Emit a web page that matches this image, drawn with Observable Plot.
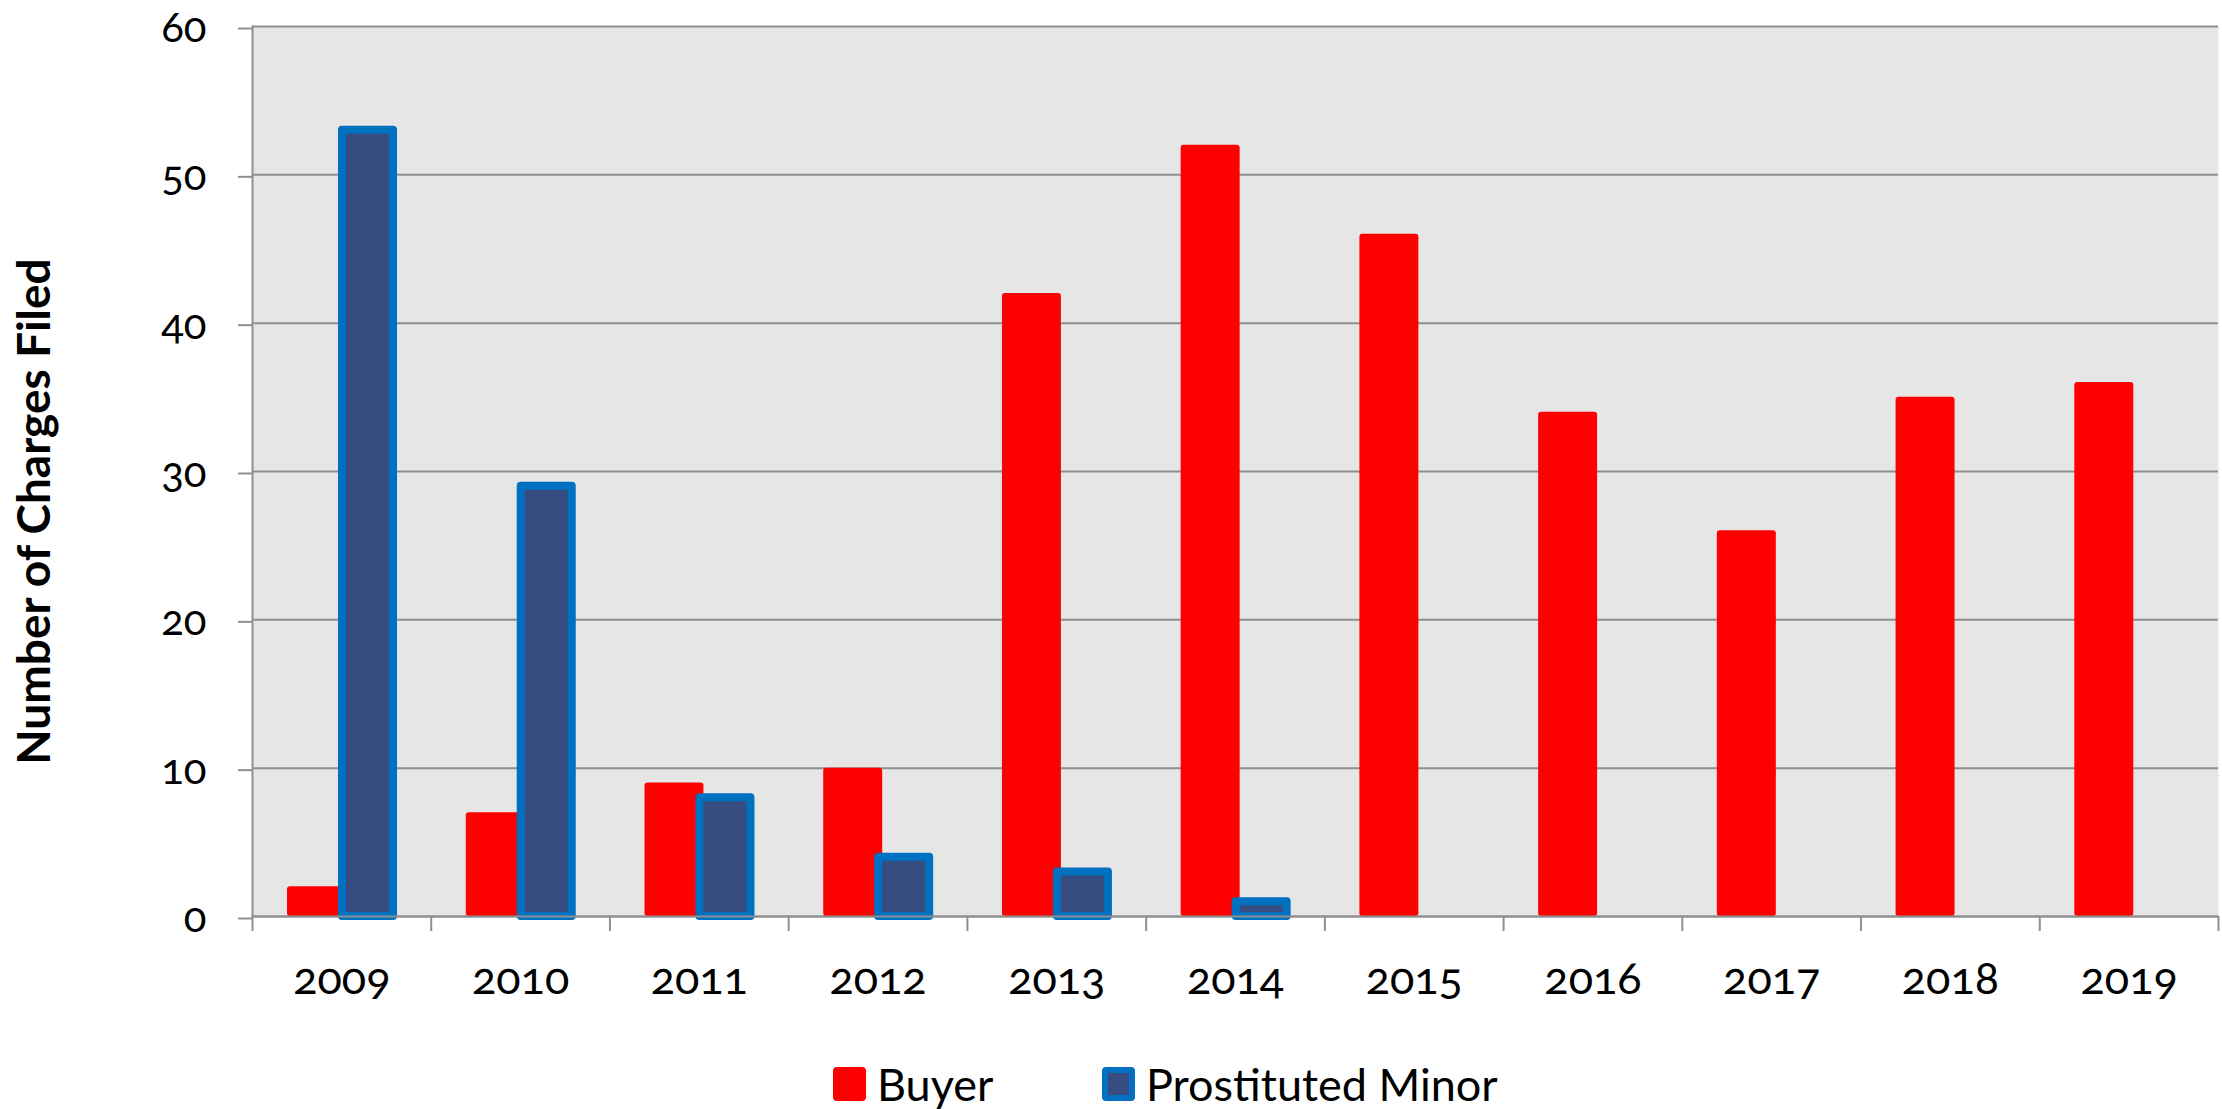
<!DOCTYPE html>
<html>
<head>
<meta charset="utf-8">
<script src="https://cdn.jsdelivr.net/npm/d3@7"></script>
<script src="https://cdn.jsdelivr.net/npm/@observablehq/plot@0.6"></script>
<style>
  html, body { margin: 0; padding: 0; background: #fff; }
  #wrap { position: relative; width: 2222px; height: 1109px; font-family: Lato, "Open Sans", sans-serif; }
  #chart svg { display: block; font-variant-numeric: oldstyle-nums; font-feature-settings: "onum" 1; }
  #legend { position: absolute; left: 0; top: 1040px; width: 2222px; height: 69px; }
  .item { position: absolute; top: 27px; height: 34px; display: flex; align-items: center; font-size: 45px; color: #000; }
  .sw { width: 33px; height: 34px; border-radius: 4px; box-sizing: border-box; margin-right: 11px; flex: none; }
</style>
</head>
<body>
<div id="wrap">
  <div id="chart"></div>
  <div id="legend">
    <div class="item" style="left:833px"><div class="sw" style="background:#ff0000"></div><span>Buyer</span></div>
    <div class="item" style="left:1102px"><div class="sw" style="background:#374c80;border:6px solid #0070c0"></div><span>Prostituted Minor</span></div>
  </div>
</div>
<script>
// ---- data ----
const years = [2009, 2010, 2011, 2012, 2013, 2014, 2015, 2016, 2017, 2018, 2019];
const buyer = [2, 7, 9, 10, 42, 52, 46, 34, 26, 35, 36];
const minor = [53, 29, 8, 4, 3, 1, null, null, null, null, null];
const yTicks = [0, 10, 20, 30, 40, 50, 60];
const seriesNames = ["Buyer", "Prostituted Minor"];
const yTitle = "Number of Charges Filed";

// ---- build tables ----
const buyerRows = years.map((year, i) => ({year, value: buyer[i], series: seriesNames[0]}));
const minorRows = years.map((year, i) => ({year, value: minor[i], series: seriesNames[1]})).filter(d => d.value != null);
const boundaries = years.map(y => y - 0.5).concat([years[years.length - 1] + 0.5]);

// bar placement within each one-year category (fractions of the category)
const B0 = 0.196, B1 = 0.526, M0 = 0.5035, M1 = 0.789;

const grid = "#8f8f8f";
const W = 2222, H = 1040;

const chart = Plot.plot({
  width: W,
  height: H,
  marginLeft: 252,
  marginRight: 4,
  marginTop: 26,
  marginBottom: H - 916,
  style: {fontFamily: "Lato, 'Open Sans', sans-serif", color: "#000", background: "transparent"},
  x: {type: "linear", domain: [boundaries[0], boundaries[boundaries.length - 1]], axis: null},
  y: {domain: [0, 60], axis: null},
  marks: [
    Plot.frame({fill: "#e6e6e6", stroke: null}),
    Plot.gridY(yTicks, {stroke: grid, strokeOpacity: 1, strokeWidth: 2}),
    Plot.rectY(buyerRows, {
      x1: d => d.year - 0.5 + B0, x2: d => d.year - 0.5 + B1,
      y1: 0, y2: "value", fill: "#ff0000", rx: 3
    }),
    Plot.rectY(minorRows, {
      x1: d => d.year - 0.5 + M0, x2: d => d.year - 0.5 + M1,
      y1: 0, y2: "value", fill: "#374c80", stroke: "#0070c0", strokeWidth: 8, strokeLinejoin: "round"
    }),
    Plot.ruleY([0], {stroke: grid, strokeWidth: 2}),
    Plot.frame({anchor: "left", stroke: grid, strokeWidth: 2}),
    Plot.axisY({ticks: yTicks, tickSize: 14, tickPadding: 32, fontSize: 42, stroke: grid, strokeWidth: 2, fill: "#000", label: null, dy: 2}),
    Plot.axisX({ticks: boundaries, tickSize: 15, tickFormat: () => "", stroke: grid, strokeWidth: 2, label: null}),
    Plot.axisX({ticks: years, tickSize: 0, tickPadding: 46, tickFormat: d => String(d), fontSize: 45, fill: "#000", label: null}),
    Plot.text([yTitle], {
      frameAnchor: "left", rotate: -90, dx: -217, dy: 40,
      textAnchor: "middle", lineAnchor: "middle",
      fontSize: 46, fontWeight: "bold", fill: "#000"
    })
  ]
});
document.getElementById("chart").appendChild(chart);
</script>
</body>
</html>
